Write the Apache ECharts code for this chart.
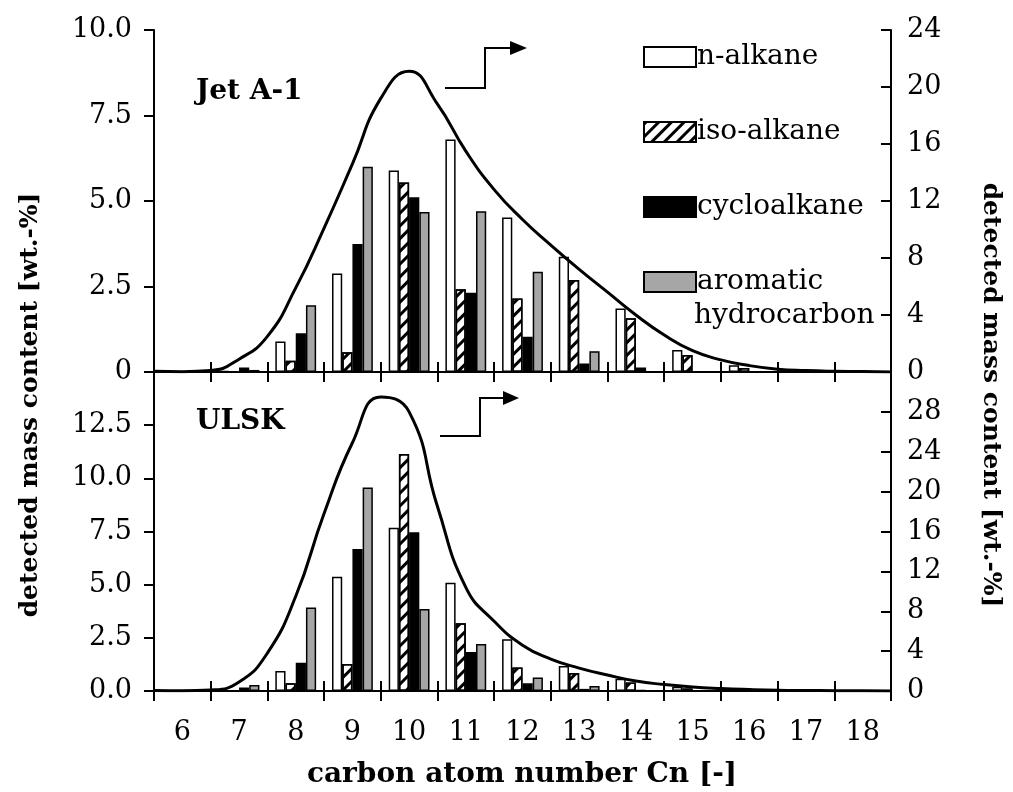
<!DOCTYPE html>
<html>
<head>
<meta charset="utf-8">
<title>detected mass content</title>
<script src="https://cdn.jsdelivr.net/npm/echarts@6/dist/echarts.min.js"></script>
<style>
  html, body { margin: 0; padding: 0; background: #fff; }
  #main { width: 1013px; height: 792px; }
</style>
</head>
<body>
<div id="main"></div>
<script>
// carbon numbers on the x axis
var carbonNumbers = ['6', '7', '8', '9', '10', '11', '12', '13', '14', '15', '16', '17', '18'];

// Jet A-1 bars (left axis, wt.-%)
var jetNAlkane     = [0, 0.03, 0.89, 2.88, 5.89, 6.80, 4.52, 3.37, 1.86, 0.64, 0.20, 0, 0];
var jetIsoAlkane   = [0, 0.02, 0.33, 0.58, 5.54, 2.42, 2.15, 2.69, 1.57, 0.50, 0.12, 0, 0];
var jetCycloalkane = [0, 0.13, 1.13, 3.74, 5.11, 2.32, 1.03, 0.25, 0.13, 0.02, 0, 0, 0];
var jetAromatic    = [0, 0.06, 1.95, 6.00, 4.68, 4.70, 2.93, 0.61, 0.02, 0, 0, 0, 0];

// ULSK bars (left axis, wt.-%)
var ulskNAlkane     = [0, 0.03, 0.94, 5.37, 7.68, 5.09, 2.43, 1.17, 0.58, 0.20, 0.05, 0, 0];
var ulskIsoAlkane   = [0, 0, 0.36, 1.27, 11.14, 3.18, 1.10, 0.85, 0.40, 0.12, 0, 0, 0];
var ulskCycloalkane = [0, 0.17, 1.33, 6.68, 7.47, 1.83, 0.36, 0.10, 0.05, 0, 0, 0, 0];
var ulskAromatic    = [0, 0.28, 3.93, 9.57, 3.85, 2.21, 0.64, 0.23, 0.03, 0, 0, 0, 0];

// total distribution curves (right axis), every half carbon number
var curveCarbon = [5.5, 6, 6.5, 7, 7.5, 8, 8.5, 9, 9.5, 10, 10.5, 11, 11.5, 12, 12.5, 13, 13.5, 14, 14.5, 15, 15.5, 16, 16.5, 17, 17.5, 18, 18.5];
var jetTotal  = [0.05, 0.02, 0.1, 0.9, 2.5, 5.9, 10.1, 14.6, 19.2, 21.1, 18.8, 15.5, 12.8, 10.7, 8.9, 7.2, 5.6, 4.0, 2.6, 1.5, 0.85, 0.45, 0.2, 0.1, 0.05, 0.03, 0];
var ulskTotal = [0.05, 0.02, 0.1, 0.9, 3.8, 9.5, 17.8, 24.9, 29.5, 28.0, 18.5, 10.4, 7.0, 4.6, 3.2, 2.3, 1.6, 1.0, 0.65, 0.4, 0.25, 0.15, 0.08, 0.05, 0.03, 0.02, 0];

// tick settings
var jetLeftMax = 10, leftStep = 2.5, jetRightMax = 24, rightStep = 4;
var ulskLeftMax = 15, ulskRightMax = 32;

var font = 'DejaVu Serif';
var black = '#000';

function pairs(xs, ys) {
    return xs.map(function (x, i) { return [x, ys[i]]; });
}

var isoDecal = {
    symbol: 'rect',
    symbolSize: 1,
    color: black,
    dashArrayX: [1, 0],
    dashArrayY: [3, 6],
    rotation: -Math.PI / 4
};

function bars(name, data, xi, yi, color, decal) {
    var s = {
        name: name,
        type: 'bar',
        xAxisIndex: xi,
        yAxisIndex: yi,
        data: data,
        barGap: '0%',
        barCategoryGap: '28%',
        itemStyle: { color: color, borderColor: black, borderWidth: 1.5 }
    };
    if (decal) s.itemStyle.decal = decal;
    return s;
}

function curve(name, ys, xi, yi) {
    return {
        name: name, type: 'line', xAxisIndex: xi, yAxisIndex: yi,
        data: pairs(curveCarbon, ys), showSymbol: false,
        smooth: 0.5,
        lineStyle: { color: black, width: 3 }, z: 5
    };
}

var axisLine = { lineStyle: { color: black, width: 2 } };
var tickStyle = { color: black, width: 2 };
var labelStyle = { fontFamily: font, fontSize: 27, color: black };

function catAxis(grid, pos, opts) {
    return Object.assign({
        type: 'category',
        gridIndex: grid,
        position: pos,
        data: carbonNumbers,
        axisLine: axisLine,
        axisTick: { show: false },
        axisLabel: { show: false },
        splitLine: { show: false }
    }, opts);
}

function valAxis(grid, pos, max, step, fmt, inside, hideMax) {
    return {
        type: 'value',
        gridIndex: grid,
        position: pos,
        min: 0,
        max: max,
        interval: step,
        axisLine: Object.assign({ show: true }, axisLine),
        axisTick: { show: true, inside: inside, length: 10, lineStyle: tickStyle },
        splitLine: { show: false },
        axisLabel: Object.assign({ margin: inside ? 16 : 22, formatter: fmt, showMaxLabel: !hideMax }, labelStyle)
    };
}

var chart = echarts.init(document.getElementById('main'));

chart.setOption({
    animation: false,
    grid: [
        { left: 154, right: 122, top: 30, height: 342 },
        { left: 154, right: 122, top: 372, height: 319 }
    ],
    legend: {
        orient: 'vertical',
        left: 638,
        top: 35,
        icon: 'rect',
        itemWidth: 52,
        itemHeight: 20,
        itemGap: 41,
        data: ['n-alkane', 'iso-alkane', 'cycloalkane', 'aromatic hydrocarbon'],
        formatter: function (n) { return n === 'aromatic hydrocarbon' ? 'aromatic' : n; },
        textStyle: { fontFamily: font, fontSize: 28, lineHeight: 34, color: black, padding: [0, 0, 0, -4] }
    },
    xAxis: [
        catAxis(0, 'bottom', { axisTick: { show: true, inside: true, length: 10, lineStyle: tickStyle } }),
        catAxis(0, 'top', {}),
        { type: 'value', gridIndex: 0, position: 'bottom', min: 5.5, max: 18.5, show: false },
        catAxis(1, 'bottom', {
            axisTick: { show: true, length: 10, lineStyle: tickStyle },
            axisLabel: Object.assign({ show: true, margin: 28 }, labelStyle)
        }),
        catAxis(1, 'bottom', { axisTick: { show: true, inside: true, length: 10, lineStyle: tickStyle } }),
        catAxis(1, 'top', { axisTick: { show: true, inside: true, length: 10, lineStyle: tickStyle } }),
        { type: 'value', gridIndex: 1, position: 'bottom', min: 5.5, max: 18.5, show: false }
    ],
    yAxis: [
        valAxis(0, 'left', jetLeftMax, leftStep, function (v) { return v === 0 ? '0' : v.toFixed(1); }, false, false),
        valAxis(0, 'right', jetRightMax, rightStep, function (v) { return String(v); }, true, false),
        valAxis(1, 'left', ulskLeftMax, leftStep, function (v) { return v.toFixed(1); }, false, true),
        valAxis(1, 'right', ulskRightMax, rightStep, function (v) { return String(v); }, true, true)
    ],
    series: [
        bars('n-alkane', jetNAlkane, 0, 0, '#fff'),
        bars('iso-alkane', jetIsoAlkane, 0, 0, '#fff', isoDecal),
        bars('cycloalkane', jetCycloalkane, 0, 0, black),
        bars('aromatic hydrocarbon', jetAromatic, 0, 0, '#a6a6a6'),
        bars('n-alkane', ulskNAlkane, 3, 2, '#fff'),
        bars('iso-alkane', ulskIsoAlkane, 3, 2, '#fff', isoDecal),
        bars('cycloalkane', ulskCycloalkane, 3, 2, black),
        bars('aromatic hydrocarbon', ulskAromatic, 3, 2, '#a6a6a6'),
        curve('Jet A-1 total', jetTotal, 2, 1),
        curve('ULSK total', ulskTotal, 6, 3)
    ],
    graphic: [
        { type: 'text', left: 196, top: 78, style: { text: 'Jet A-1', font: 'bold 28px "DejaVu Serif"', fill: black } },
        { type: 'text', left: 196, top: 408, style: { text: 'ULSK', font: 'bold 28px "DejaVu Serif"', fill: black } },
        { type: 'text', left: 694, top: 302, style: { text: 'hydrocarbon', font: '28px "DejaVu Serif"', fill: black } },
        {
            type: 'text', x: 30, y: 405, rotation: Math.PI / 2,
            style: { text: 'detected mass content [wt.-%]', font: 'bold 25px "DejaVu Serif"', fill: black, align: 'center', verticalAlign: 'middle' }
        },
        {
            type: 'text', x: 990, y: 395, rotation: -Math.PI / 2,
            style: { text: 'detected mass content [wt.-%]', font: 'bold 25px "DejaVu Serif"', fill: black, align: 'center', verticalAlign: 'middle' }
        },
        {
            type: 'text', x: 522, y: 775,
            style: { text: 'carbon atom number Cn [-]', font: 'bold 28px "DejaVu Serif"', fill: black, align: 'center', verticalAlign: 'middle' }
        },
        { type: 'polyline', shape: { points: [[445, 88], [485, 88], [485, 48], [512, 48]] }, style: { stroke: black, lineWidth: 2, fill: null } },
        { type: 'polygon', shape: { points: [[510, 41], [527, 48], [510, 55]] }, style: { fill: black } },
        { type: 'polyline', shape: { points: [[440, 436], [480, 436], [480, 398], [505, 398]] }, style: { stroke: black, lineWidth: 2, fill: null } },
        { type: 'polygon', shape: { points: [[503, 391], [519, 398], [503, 405]] }, style: { fill: black } }
    ]
});
</script>
</body>
</html>
